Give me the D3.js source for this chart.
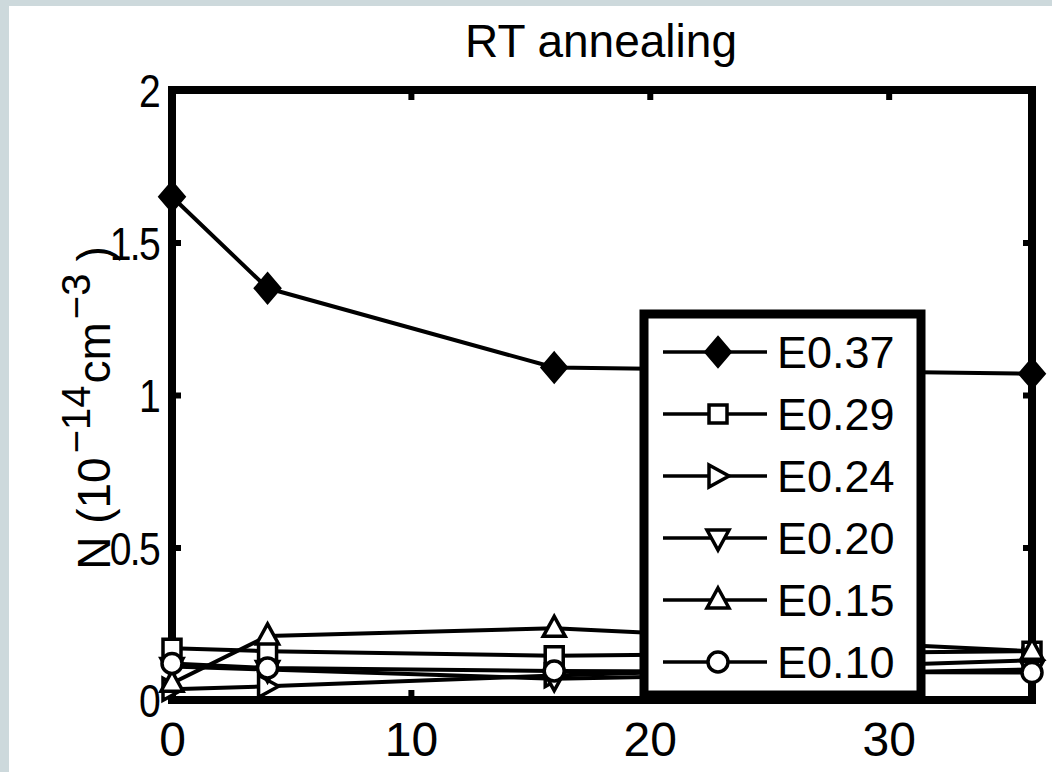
<!DOCTYPE html>
<html>
<head>
<meta charset="utf-8">
<script src="https://cdn.jsdelivr.net/npm/d3@7/dist/d3.min.js"></script>
<style>
  html, body { margin: 0; padding: 0; background: #ffffff; }
  svg { display: block; }
  text { font-family: "Liberation Sans", Arial, sans-serif; fill: #000; }
</style>
</head>
<body>
<svg id="chart" width="1052" height="772"></svg>
<script>
// ---------------- data ----------------
const times = [0, 4, 16, 36];
const seriesNames = ["E0.37", "E0.29", "E0.24", "E0.20", "E0.15", "E0.10"];
const markerTypes = ["diamond", "square", "triangleRight", "triangleDown", "triangleUp", "circle"];
const e037 = [1.65, 1.35, 1.09, 1.07];
const e029 = [0.17, 0.16, 0.145, 0.16];
const e024 = [0.035, 0.045, 0.08, 0.13];
const e020 = [0.11, 0.10, 0.07, 0.10];
const e015 = [0.055, 0.21, 0.235, 0.16];
const e010 = [0.12, 0.105, 0.095, 0.09];
const seriesValues = [e037, e029, e024, e020, e015, e010];
const xTicks = [0, 10, 20, 30];
const yTicks = [0, 0.5, 1, 1.5, 2];
const yTickLabels = ["0", "0.5", "1", "1.5", "2"];
const titleText = "RT annealing";

(function () {
// ---------------- layout ----------------
const svg = d3.select("#chart");
const W = 1052, H = 772;
const pL = 172, pR = 1032, pT = 90, pB = 700;

const x = d3.scaleLinear().domain([0, 36]).range([pL, pR]);
const y = d3.scaleLinear().domain([0, 2]).range([pB, pT]);

// background
svg.append("rect").attr("width", W).attr("height", H).attr("fill", "#cdd9dc");
svg.append("rect").attr("x", 9).attr("y", 6).attr("width", W - 9).attr("height", H - 6).attr("fill", "#ffffff");

// plot area
svg.append("rect").attr("x", pL).attr("y", pT).attr("width", pR - pL).attr("height", pB - pT)
  .attr("fill", "#fff");

// axes (ticks inward)
const axB = svg.append("g").attr("transform", `translate(0,${pB})`)
  .call(d3.axisBottom(x).tickValues(xTicks).tickSize(-10).tickPadding(22).tickFormat(d3.format("d")));
const axT = svg.append("g").attr("transform", `translate(0,${pT})`)
  .call(d3.axisTop(x).tickValues(xTicks).tickSize(-10).tickFormat(""));
const axL = svg.append("g").attr("transform", `translate(${pL},0)`)
  .call(d3.axisLeft(y).tickValues(yTicks).tickSize(-9).tickPadding(10).tickFormat((d, i) => yTickLabels[i]));
const axR = svg.append("g").attr("transform", `translate(${pR},0)`)
  .call(d3.axisRight(y).tickValues(yTicks).tickSize(-9).tickFormat(""));
[axB, axT, axL, axR].forEach(g => {
  g.select(".domain").remove();
  g.selectAll(".tick line").attr("stroke", "#000").attr("stroke-width", 6);
  g.selectAll(".tick text").attr("font-family", "Liberation Sans, Arial, sans-serif").attr("fill", "#000");
});
axB.selectAll(".tick text").attr("font-size", 48);
// slightly condensed y tick labels
const sx = 0.85;
axL.selectAll(".tick text").attr("font-size", 46).attr("letter-spacing", -2).attr("dy", "0.36em")
  .attr("x", -13 / sx).attr("transform", `scale(${sx},1)`);

// frame
svg.append("rect").attr("x", pL).attr("y", pT).attr("width", pR - pL).attr("height", pB - pT)
  .attr("fill", "none").attr("stroke", "#000").attr("stroke-width", 8);

// title
svg.append("text").attr("x", 601).attr("y", 57).attr("text-anchor", "middle")
  .attr("font-size", 46).text(titleText);

// y label
const yl = svg.append("text").attr("transform", `translate(110,408) rotate(-90)`)
  .attr("text-anchor", "middle").attr("font-size", 46);
yl.append("tspan").text("N  (10");
yl.append("tspan").attr("font-size", 40).attr("dy", -20).attr("dx", 4).text("\u221214");
yl.append("tspan").attr("dy", 20).attr("dx", 2).text("cm");
yl.append("tspan").attr("font-size", 40).attr("dy", -20).attr("dx", 3).text("\u22123");
yl.append("tspan").attr("dy", 20).attr("dx", 12).text(")");

// marker paths
function markerPath(type) {
  switch (type) {
    case "diamond": return "M0,-14L12,0L0,14L-12,0Z";
    case "square": return "M-9,-9H9V9H-9Z";
    case "triangleRight": return "M-9,-11L11,0L-9,11Z";
    case "triangleDown": return "M-11,-8H11L0,12Z";
    case "triangleUp": return "M0,-12L11,8H-11Z";
    case "circle": return "M10,0A10,10 0 1,1 -10,0A10,10 0 1,1 10,0Z";
  }
}

const line = d3.line().x((d, i) => x(times[i])).y(d => y(d));

const order = [0, 1, 2, 3, 4, 5];
order.forEach(si => {
  svg.append("path").datum(seriesValues[si]).attr("d", line).attr("fill", "none")
    .attr("stroke", "#000").attr("stroke-width", 4).attr("stroke-linejoin", "round");
});
order.forEach(si => {
  const filled = markerTypes[si] === "diamond";
  svg.append("g").selectAll("path").data(seriesValues[si]).join("path")
    .attr("transform", (d, i) => `translate(${x(times[i])},${y(d)})`)
    .attr("d", markerPath(markerTypes[si]))
    .attr("fill", filled ? "#000" : "#fff")
    .attr("stroke", "#000").attr("stroke-width", 3.5);
});

// legend
const lgX = 644, lgY = 314, lgW = 277, lgH = 381;
const lg = svg.append("g");
lg.append("rect").attr("x", lgX).attr("y", lgY).attr("width", lgW).attr("height", lgH)
  .attr("fill", "#fff").attr("stroke", "#000").attr("stroke-width", 9);
const rowY = d3.scalePoint().domain(seriesNames).range([352, 662]);
seriesNames.forEach((name, i) => {
  const ry = rowY(name);
  lg.append("line").attr("x1", 663).attr("x2", 767).attr("y1", ry).attr("y2", ry)
    .attr("stroke", "#000").attr("stroke-width", 3.5);
  lg.append("path").attr("transform", `translate(718,${ry})`).attr("d", markerPath(markerTypes[i]))
    .attr("fill", markerTypes[i] === "diamond" ? "#000" : "#fff").attr("stroke", "#000").attr("stroke-width", 3.5);
  lg.append("text").attr("x", 777).attr("y", ry + 16).attr("font-size", 45).text(name);
});
})();
</script>
</body>
</html>
